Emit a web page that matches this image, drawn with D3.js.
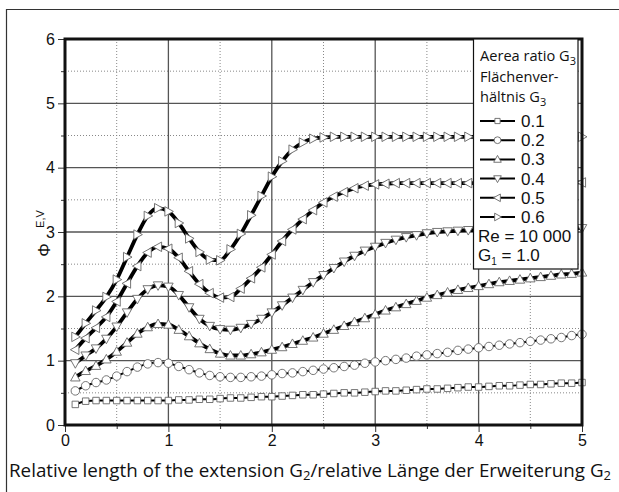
<!DOCTYPE html>
<html><head><meta charset="utf-8">
<script src="https://cdn.jsdelivr.net/npm/d3@7/dist/d3.min.js"></script>
<style>
html,body{margin:0;padding:0;background:#fff;}
svg{display:block;}
</style>
</head><body>
<svg id="chart" width="619" height="492"></svg>
<script>
// ---------- DATA ----------
const xValues = [0.1,0.2,0.3,0.4,0.5,0.6,0.7,0.8,0.9,1.0,
  1.1,1.2,1.3,1.4,1.5,1.6,1.7,1.8,1.9,2.0,
  2.1,2.2,2.3,2.4,2.5,2.6,2.7,2.8,2.9,3.0,
  3.1,3.2,3.3,3.4,3.5,3.6,3.7,3.8,3.9,4.0,
  4.1,4.2,4.3,4.4,4.5,4.6,4.7,4.8,4.9,5.0];
const seriesNames = ["0.1","0.2","0.3","0.4","0.5","0.6"];
const g01 = [0.32,0.37,0.38,0.38,0.38,0.38,0.38,0.38,0.38,0.38,
  0.39,0.39,0.40,0.40,0.41,0.42,0.42,0.43,0.44,0.44,
  0.45,0.46,0.47,0.47,0.48,0.49,0.50,0.50,0.51,0.52,
  0.53,0.53,0.54,0.55,0.56,0.56,0.57,0.58,0.59,0.59,
  0.60,0.61,0.61,0.62,0.63,0.63,0.64,0.65,0.65,0.66];
const g02 = [0.53,0.61,0.66,0.70,0.76,0.83,0.90,0.95,0.97,0.96,
  0.91,0.86,0.81,0.77,0.75,0.74,0.74,0.75,0.76,0.78,
  0.80,0.81,0.83,0.85,0.87,0.89,0.91,0.93,0.96,0.98,
  1.00,1.02,1.04,1.07,1.09,1.11,1.13,1.16,1.18,1.20,
  1.22,1.24,1.26,1.28,1.30,1.32,1.34,1.36,1.39,1.41];
const g03 = [0.74,0.84,0.92,1.02,1.14,1.28,1.42,1.52,1.57,1.56,
  1.48,1.38,1.27,1.18,1.11,1.08,1.08,1.10,1.13,1.17,
  1.21,1.26,1.31,1.36,1.42,1.48,1.54,1.60,1.66,1.72,
  1.78,1.83,1.88,1.93,1.98,2.02,2.06,2.10,2.13,2.16,
  2.19,2.22,2.24,2.26,2.28,2.30,2.32,2.34,2.35,2.37];
const g04 = [0.96,1.08,1.19,1.34,1.53,1.75,1.96,2.11,2.17,2.15,
  2.02,1.83,1.65,1.54,1.49,1.48,1.51,1.57,1.65,1.75,
  1.86,1.98,2.10,2.22,2.33,2.44,2.54,2.63,2.71,2.77,
  2.83,2.88,2.92,2.95,2.98,3.00,3.01,3.02,3.03,3.03,
  3.04,3.04,3.04,3.05,3.05,3.05,3.05,3.06,3.06,3.06];
const g05 = [1.17,1.35,1.51,1.68,1.92,2.20,2.47,2.68,2.77,2.74,
  2.60,2.39,2.19,2.05,1.98,1.99,2.12,2.28,2.45,2.65,
  2.86,3.04,3.20,3.34,3.46,3.55,3.62,3.68,3.72,3.74,
  3.75,3.76,3.76,3.76,3.76,3.76,3.76,3.76,3.76,3.76,
  3.77,3.77,3.77,3.77,3.77,3.77,3.77,3.77,3.77,3.77];
const g06 = [1.37,1.58,1.78,1.99,2.26,2.61,2.96,3.25,3.37,3.32,
  3.14,2.90,2.69,2.57,2.56,2.73,2.97,3.26,3.56,3.86,
  4.10,4.28,4.39,4.45,4.47,4.48,4.48,4.48,4.48,4.48,
  4.48,4.48,4.48,4.48,4.48,4.48,4.48,4.48,4.48,4.48,
  4.48,4.48,4.48,4.48,4.48,4.48,4.48,4.48,4.48,4.48];
const xTicks = [0,1,2,3,4,5];
const xMinorTicks = [0.5,1.5,2.5,3.5,4.5];
const yTicks = [0,1,2,3,4,5,6];
const yMinorTicks = [0.5,1.5,2.5,3.5,4.5,5.5];

// ---------- LAYOUT ----------
const svg = d3.select("#chart");
const L = 65, R = 582, T = 39, B = 425;
const x = d3.scaleLinear().domain([0,5]).range([L,R]);
const y = d3.scaleLinear().domain([0,6]).range([B,T]);
const tickFont = "'Liberation Sans', Arial, sans-serif";
const textFont = "'Open Sans', sans-serif";

// outer frame
svg.append("path").attr("d","M6.5,700 V9.5 H700").attr("fill","none").attr("stroke","#333").attr("stroke-width",1.2);

// grid
const grid = svg.append("g");
grid.selectAll(".gmx").data(xMinorTicks).join("line")
  .attr("x1",d=>x(d)).attr("x2",d=>x(d)).attr("y1",T).attr("y2",B)
  .attr("stroke","#888").attr("stroke-width",1).attr("stroke-dasharray","1,2");
grid.selectAll(".gmy").data(yMinorTicks).join("line")
  .attr("y1",d=>y(d)).attr("y2",d=>y(d)).attr("x1",L).attr("x2",R)
  .attr("stroke","#888").attr("stroke-width",1).attr("stroke-dasharray","1,2");
grid.selectAll(".gx").data(xTicks.slice(1,-1)).join("line")
  .attr("x1",d=>x(d)).attr("x2",d=>x(d)).attr("y1",T).attr("y2",B)
  .attr("stroke","#555").attr("stroke-width",1.3);
grid.selectAll(".gy").data(yTicks.slice(1,-1)).join("line")
  .attr("y1",d=>y(d)).attr("y2",d=>y(d)).attr("x1",L).attr("x2",R)
  .attr("stroke","#555").attr("stroke-width",1.3);

// axes (ticks + labels)
const xAxis = d3.axisBottom(x).tickValues(xTicks).tickSize(7).tickPadding(3).tickFormat(d3.format("d"));
const gx = svg.append("g").attr("transform",`translate(0,${B})`).call(xAxis);
gx.select(".domain").remove();
gx.selectAll("line").attr("stroke","#333");
gx.selectAll("text").attr("font-family",tickFont).attr("font-size",16).attr("fill","#111");
const gxm = svg.append("g").attr("transform",`translate(0,${B})`)
  .call(d3.axisBottom(x).tickValues(xMinorTicks).tickSize(4).tickFormat(""));
gxm.select(".domain").remove(); gxm.selectAll("line").attr("stroke","#333");

const yAxis = d3.axisLeft(y).tickValues(yTicks).tickSize(7).tickPadding(3).tickFormat(d3.format("d"));
const gy = svg.append("g").attr("transform",`translate(${L},0)`).call(yAxis);
gy.select(".domain").remove();
gy.selectAll("line").attr("stroke","#333");
gy.selectAll("text").attr("font-family",tickFont).attr("font-size",16).attr("fill","#111");
const gym = svg.append("g").attr("transform",`translate(${L},0)`)
  .call(d3.axisLeft(y).tickValues(yMinorTicks).tickSize(4).tickFormat(""));
gym.select(".domain").remove(); gym.selectAll("line").attr("stroke","#333");

// ---------- SERIES ----------
const allSeries = [g01,g02,g03,g04,g05,g06];
const markerTypes = ["square","circle","tup","tdown","tleft","tright"];
const lineWidths = [2,2,3.8,3.8,3.8,3.8];

function markerPath(type, s){
  const h = s/2;
  switch(type){
    case "square": return `M${-h},${-h}H${h}V${h}H${-h}Z`;
    case "circle": return d3.symbol().type(d3.symbolCircle).size(Math.PI*h*h)();
    case "tup": return `M0,${-h*1.05}L${h},${h*0.75}L${-h},${h*0.75}Z`;
    case "tdown": return `M0,${h*1.05}L${h},${-h*0.75}L${-h},${-h*0.75}Z`;
    case "tleft": return `M${-h*1.05},0L${h*0.75},${-h}L${h*0.75},${h}Z`;
    case "tright": return `M${h*1.05},0L${-h*0.75},${-h}L${-h*0.75},${h}Z`;
  }
}
const markerSizes = [6.5,8.5,9.5,9.5,9.5,9.5];

const line = d3.line().x(d=>x(d[0])).y(d=>y(d[1])).curve(d3.curveMonotoneX);
const plot = svg.append("g");
allSeries.forEach((vals,i)=>{
  const pts = xValues.map((xv,j)=>[xv, vals[j]]);
  plot.append("path").datum(pts).attr("d",line)
    .attr("fill","none").attr("stroke","#000").attr("stroke-width",lineWidths[i]);
  plot.append("g").selectAll("path").data(pts).join("path")
    .attr("transform",d=>`translate(${x(d[0])},${y(d[1])})`)
    .attr("d",markerPath(markerTypes[i], markerSizes[i]))
    .attr("fill","#fff").attr("stroke","#666").attr("stroke-width",0.9);
});

// plot frame
svg.append("rect").attr("x",L).attr("y",T).attr("width",R-L).attr("height",B-T)
  .attr("fill","none").attr("stroke","#111").attr("stroke-width",3);

// ---------- LEGEND ----------
const lg = svg.append("g");
lg.append("rect").attr("x",473.5).attr("y",T).attr("width",104.5).attr("height",230)
  .attr("fill","#fff").attr("stroke","#111").attr("stroke-width",1.2);
const h1 = lg.append("text").attr("x",480).attr("y",61).attr("font-family",textFont).attr("font-size",14.6).attr("fill","#111");
h1.append("tspan").text("Aerea ratio G");
h1.append("tspan").text("3").attr("font-size",11).attr("dy",4);
lg.append("text").attr("x",480).attr("y",82).attr("font-family",textFont).attr("font-size",14.6).attr("fill","#111").text("Flächenver-");
const h3 = lg.append("text").attr("x",480).attr("y",102).attr("font-family",textFont).attr("font-size",14.6).attr("fill","#111");
h3.append("tspan").text("hältnis G");
h3.append("tspan").text("3").attr("font-size",11).attr("dy",4);

const legY = d3.scaleLinear().domain([0,5]).range([121,217]);
seriesNames.forEach((n,i)=>{
  const yy = legY(i);
  lg.append("line").attr("x1",480).attr("x2",515).attr("y1",yy).attr("y2",yy)
    .attr("stroke","#000").attr("stroke-width",2);
  lg.append("path").attr("transform",`translate(497.5,${yy})`)
    .attr("d",markerPath(markerTypes[i], markerSizes[i]*0.8))
    .attr("fill","#fff").attr("stroke","#666").attr("stroke-width",0.9);
  lg.append("text").attr("x",521).attr("y",yy+6).attr("font-family",tickFont)
    .attr("font-size",17).attr("fill","#111").text(n);
});
lg.append("text").attr("x",478).attr("y",242).attr("font-family",tickFont)
  .attr("font-size",17).attr("fill","#111").text("Re = 10 000");
const g1t = lg.append("text").attr("x",478).attr("y",261).attr("font-family",tickFont)
  .attr("font-size",17).attr("fill","#111");
g1t.append("tspan").text("G");
g1t.append("tspan").text("1").attr("font-size",10).attr("dy",4);
g1t.append("tspan").text(" =  1.0").attr("dy",-4).attr("font-size",17);

// ---------- AXIS TITLES ----------
const xt = svg.append("text").attr("x",9).attr("y",477).attr("font-family",textFont)
  .attr("font-size",18.8).attr("fill","#111");
xt.append("tspan").text("Relative length of the extension G");
xt.append("tspan").text("2").attr("font-size",13).attr("dy",3);
xt.append("tspan").text("/relative Länge der Erweiterung G").attr("dy",-3);
xt.append("tspan").text("2").attr("font-size",13).attr("dy",3);

const yt = svg.append("g").attr("transform","translate(50,250) rotate(-90)");
yt.append("text").attr("x",0).attr("y",0).attr("text-anchor","middle")
  .attr("font-family",tickFont).attr("font-size",17).attr("fill","#111").text("Φ");
yt.append("text").attr("x",31).attr("y",-6).attr("text-anchor","middle")
  .attr("font-family",tickFont).attr("font-size",11).attr("fill","#111").text("E,V");
</script>
</body></html>
